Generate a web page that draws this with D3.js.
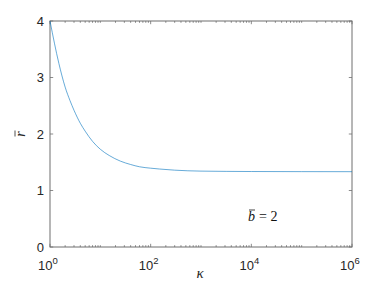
<!DOCTYPE html>
<html>
<head>
<meta charset="utf-8">
<script src="https://cdn.jsdelivr.net/npm/d3@7"></script>
<style>
body { margin: 0; background: #fff; }
svg { display: block; }
</style>
</head>
<body>
<div id="chart"></div>
<script>
// curve
const kappa = [1, 1.5, 2, 2.5, 3, 4, 5, 7, 10, 15, 25, 40, 60, 100, 150, 300, 1000, 1e4, 1e5, 1e6]
const rbar = [4.00, 3.25, 2.83, 2.59, 2.42, 2.19, 2.05, 1.87, 1.73, 1.62, 1.52, 1.46, 1.42, 1.395, 1.38, 1.36, 1.343, 1.336, 1.334, 1.333]

const yTicks = [0, 1, 2, 3, 4]
const xTicks = [1, 1e2, 1e4, 1e6]
const xTickExp = ["0", "2", "4", "6"]

const w = 389
const h = 292
const m = { left: 50, right: 37, top: 21, bottom: 45 }
const axisColor = "#6e6e6e"

const svg = d3.select("#chart").append("svg")
    .attr("width", w).attr("height", h)

const x = d3.scaleLog().domain([1, 1e6]).range([m.left, w - m.right])
const y = d3.scaleLinear().domain([0, 4]).range([h - m.bottom, m.top])

// minor ticks on the log axis: 2..9 of each decade plus the unlabelled decades
const minorX = []
for (let k = 0; k < 6; k++) {
    for (let j = 2; j <= 10; j++) {
        const v = j * Math.pow(10, k)
        if (!xTicks.includes(v)) minorX.push(v)
    }
}

const g = svg.append("g")

// box
g.append("rect")
    .attr("x", x(1)).attr("y", y(4))
    .attr("width", x(1e6) - x(1)).attr("height", y(0) - y(4))
    .attr("fill", "none").attr("stroke", axisColor).attr("stroke-width", 1)

const major = 3.2, minor = 1.8

// x ticks (bottom and top, inward)
const xt = g.append("g").attr("stroke", axisColor).attr("stroke-width", 0.8)
xTicks.concat(minorX).forEach(function(v) {
    const len = xTicks.includes(v) ? major : minor
    xt.append("line").attr("x1", x(v)).attr("x2", x(v))
        .attr("y1", y(0)).attr("y2", y(0) - len)
    xt.append("line").attr("x1", x(v)).attr("x2", x(v))
        .attr("y1", y(4)).attr("y2", y(4) + len)
})

// y ticks (left and right, inward)
yTicks.forEach(function(v) {
    xt.append("line").attr("x1", x(1)).attr("x2", x(1) + major)
        .attr("y1", y(v)).attr("y2", y(v))
    xt.append("line").attr("x1", x(1e6)).attr("x2", x(1e6) - major)
        .attr("y1", y(v)).attr("y2", y(v))
})

// tick labels
const font = "'Liberation Sans', Arial, sans-serif"
g.selectAll(".ylab").data(yTicks).enter().append("text")
    .attr("class", "ylab")
    .attr("x", x(1) - 6).attr("y", function(d) { return y(d) + 4.5 })
    .attr("text-anchor", "end")
    .attr("font-family", font).attr("font-size", 13).attr("fill", "#262626")
    .text(function(d) { return d })

const xl = g.selectAll(".xlab").data(xTicks).enter().append("text")
    .attr("class", "xlab")
    .attr("x", function(d) { return x(d) - 2 }).attr("y", h - m.bottom + 23)
    .attr("text-anchor", "middle")
    .attr("font-family", font).attr("font-size", 13).attr("fill", "#262626")
xl.append("tspan").text("10")
xl.append("tspan").attr("dy", -6).attr("font-size", 9.5)
    .text(function(d, i) { return xTickExp[i] })

// axis labels
const serif = "'Liberation Serif', 'DejaVu Serif', serif"
svg.append("text")
    .attr("x", (x(1) + x(1e6)) / 2 - 1).attr("y", 278)
    .attr("text-anchor", "middle")
    .attr("font-family", serif).attr("font-style", "italic").attr("font-size", 15)
    .attr("fill", "#262626")
    .text("κ")

const ylab = svg.append("g")
    .attr("transform", "translate(25," + ((y(0) + y(4)) / 2) + ") rotate(-90)")
ylab.append("text")
    .attr("text-anchor", "middle")
    .attr("font-family", serif).attr("font-style", "italic").attr("font-size", 14)
    .attr("fill", "#262626")
    .text("r")
ylab.append("line")
    .attr("x1", -2.5).attr("x2", 3.5).attr("y1", -10).attr("y2", -10)
    .attr("stroke", "#262626").attr("stroke-width", 0.8)

// curve
const line = d3.line()
    .x(function(d, i) { return x(kappa[i]) })
    .y(function(d) { return y(d) })
    .curve(d3.curveMonotoneX)

g.append("path")
    .datum(rbar)
    .attr("d", line)
    .attr("fill", "none")
    .attr("stroke", "#0072bd")
    .attr("stroke-width", 0.6)

// annotation  b̄ = 2
const ann = svg.append("g").attr("transform", "translate(248,221)")
ann.append("text")
    .attr("font-family", serif).attr("font-size", 14).attr("fill", "#111")
    .html('<tspan font-style="italic">b</tspan><tspan dx="4">= 2</tspan>')
ann.append("line")
    .attr("x1", 1).attr("x2", 7).attr("y1", -11).attr("y2", -11)
    .attr("stroke", "#111").attr("stroke-width", 0.8)
</script>
</body>
</html>
